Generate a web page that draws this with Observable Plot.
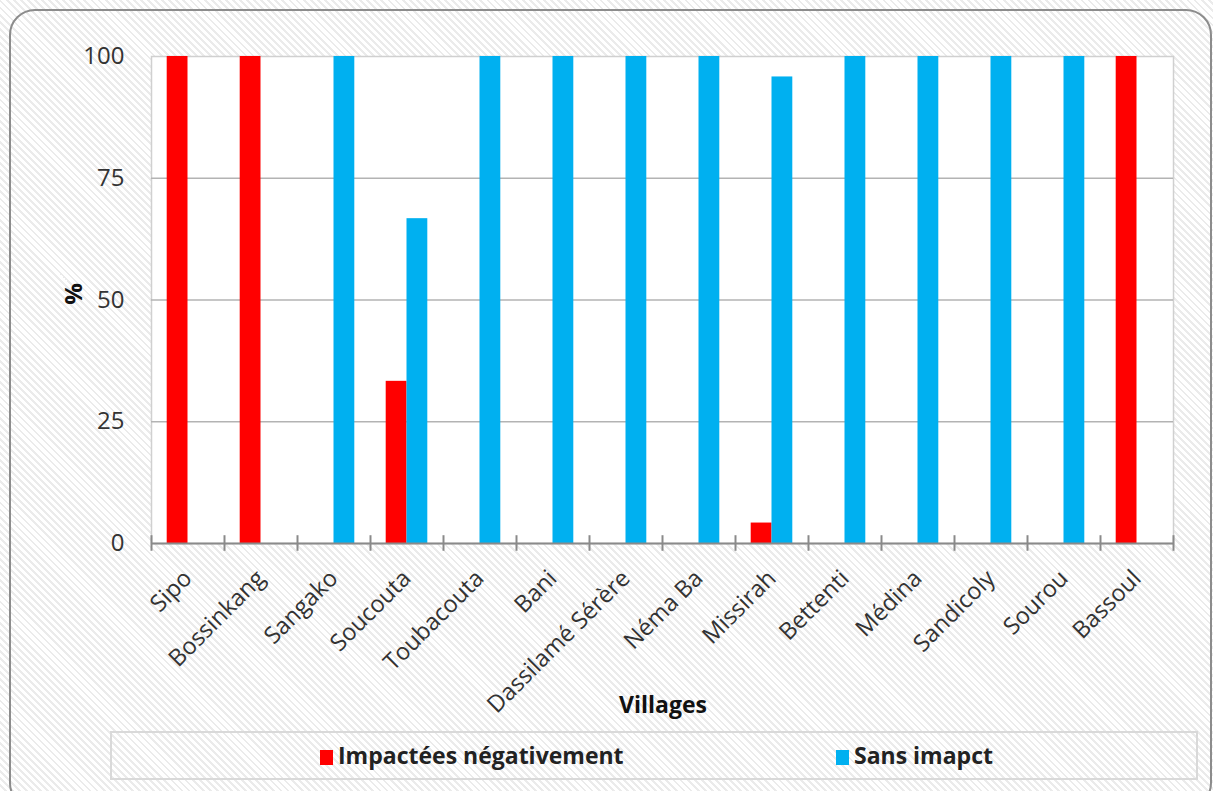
<!DOCTYPE html>
<html>
<head>
<meta charset="utf-8">
<script src="https://cdn.jsdelivr.net/npm/d3@7"></script>
<script src="https://cdn.jsdelivr.net/npm/@observablehq/plot@0.6"></script>
<style>
  html, body { margin: 0; padding: 0; background: #fff; }
  #wrap {
    position: relative; width: 1213px; height: 791px; overflow: hidden;
    font-family: "Open Sans", sans-serif;
    background: repeating-linear-gradient(45deg, #ffffff 0px, #ffffff 3px, #ebebeb 3px, #ebebeb 5px);
  }
  #border {
    position: absolute; left: 9px; top: 9px; width: 1203px; height: 800px;
    border: 2px solid #8c8c8c; border-radius: 26px; box-sizing: border-box;
  }
  #chart { position: absolute; left: 0; top: 0; }
  #xlabel {
    position: absolute; left: 563px; width: 200px; top: 688px; text-align: center;
    font-weight: bold; font-size: 23px; color: #111; line-height: 32px;
  }
  #ylabel {
    position: absolute; left: 53px; top: 278px; width: 40px; text-align: center; line-height: 32px;
    transform: rotate(-90deg); font-weight: bold; font-size: 24px; color: #111;
  }
  #legend {
    position: absolute; left: 110px; top: 731px; width: 1088px; height: 49px;
    border: 2px solid #d9d9d9; box-sizing: border-box;
  }
  .li { position: absolute; top: 6px; font-weight: bold; font-size: 23px; line-height: 32px; color: #222; white-space: nowrap; }
  .sw { display: inline-block; width: 13px; height: 15px; margin-right: 5px; vertical-align: -1px; }
  .yax text { font-size: 24px; }
  .xax text { font-size: 23.5px; }
</style>
</head>
<body>
<div id="wrap">
  <div id="border"></div>
  <div id="chart"></div>
  <div id="ylabel">%</div>
  <div id="xlabel">Villages</div>
  <div id="legend"></div>
</div>
<script>
const villages = ["Sipo", "Bossinkang", "Sangako", "Soucouta", "Toubacouta", "Bani", "Dassilamé Sérère", "Néma Ba", "Missirah", "Bettenti", "Médina", "Sandicoly", "Sourou", "Bassoul"];
const impactees = [100, 100, 0, 33.3, 0, 0, 0, 0, 4.2, 0, 0, 0, 0, 100];
const sansImpact = [0, 0, 100, 66.7, 100, 100, 100, 100, 95.8, 100, 100, 100, 100, 0];
const seriesNames = ["Impactées négativement", "Sans imapct"];
const seriesColors = ["#FF0000", "#00B0F0"];
const yTicks = [0, 25, 50, 75, 100];

const redData = villages.map((v, i) => ({village: v, value: impactees[i]}));
const blueData = villages.map((v, i) => ({village: v, value: sansImpact[i]}));

const W = 1213, H = 720;
const mL = 151, mR = 40, mT = 56, mB = 177;
const bw = (W - mL - mR) / villages.length;
const barW = 20.8;

const chart = Plot.plot({
  width: W, height: H,
  marginLeft: mL, marginRight: mR, marginTop: mT, marginBottom: mB,
  style: {background: "transparent", fontFamily: "Open Sans, sans-serif", overflow: "visible"},
  x: {type: "band", domain: villages, padding: 0},
  y: {domain: [0, 100]},
  marks: [
    Plot.frame({fill: "white", stroke: "#d0d0d0", strokeWidth: 1.5}),
    Plot.ruleY(yTicks.filter(t => t > 0 && t < 100), {stroke: "#b3b3b3", strokeWidth: 1.5}),
    Plot.barY(redData.filter(d => d.value > 0), {x: "village", y: "value", fill: seriesColors[0], insetLeft: bw / 2 - barW, insetRight: bw / 2}),
    Plot.barY(blueData.filter(d => d.value > 0), {x: "village", y: "value", fill: seriesColors[1], insetLeft: bw / 2, insetRight: bw / 2 - barW}),
    Plot.ruleY([0], {stroke: "#8a8a8a", strokeWidth: 2}),
    Plot.ruleX(villages, {x: d => d, dx: -bw / 2, y1: -1.6, y2: 1.6, stroke: "#8a8a8a", strokeWidth: 2}),
    Plot.ruleX([villages[villages.length - 1]], {x: d => d, dx: bw / 2, y1: -1.6, y2: 1.6, stroke: "#8a8a8a", strokeWidth: 2}),
    Plot.axisY({ticks: yTicks, tickSize: 0, tickPadding: 27, fontSize: 24, label: null, color: "#333", className: "yax"}),
    Plot.axisX({tickSize: 0, tickPadding: 31, tickRotate: -45, fontSize: 23.5, label: null, color: "#333", className: "xax"})
  ]
});
document.getElementById("chart").appendChild(chart);

const legend = document.getElementById("legend");
const lx = [208, 724];
seriesNames.forEach((n, i) => {
  const d = document.createElement("div");
  d.className = "li";
  d.style.left = lx[i] + "px";
  d.innerHTML = `<span class="sw" style="background:${seriesColors[i]}"></span>${n}`;
  legend.appendChild(d);
});
</script>
</body>
</html>
